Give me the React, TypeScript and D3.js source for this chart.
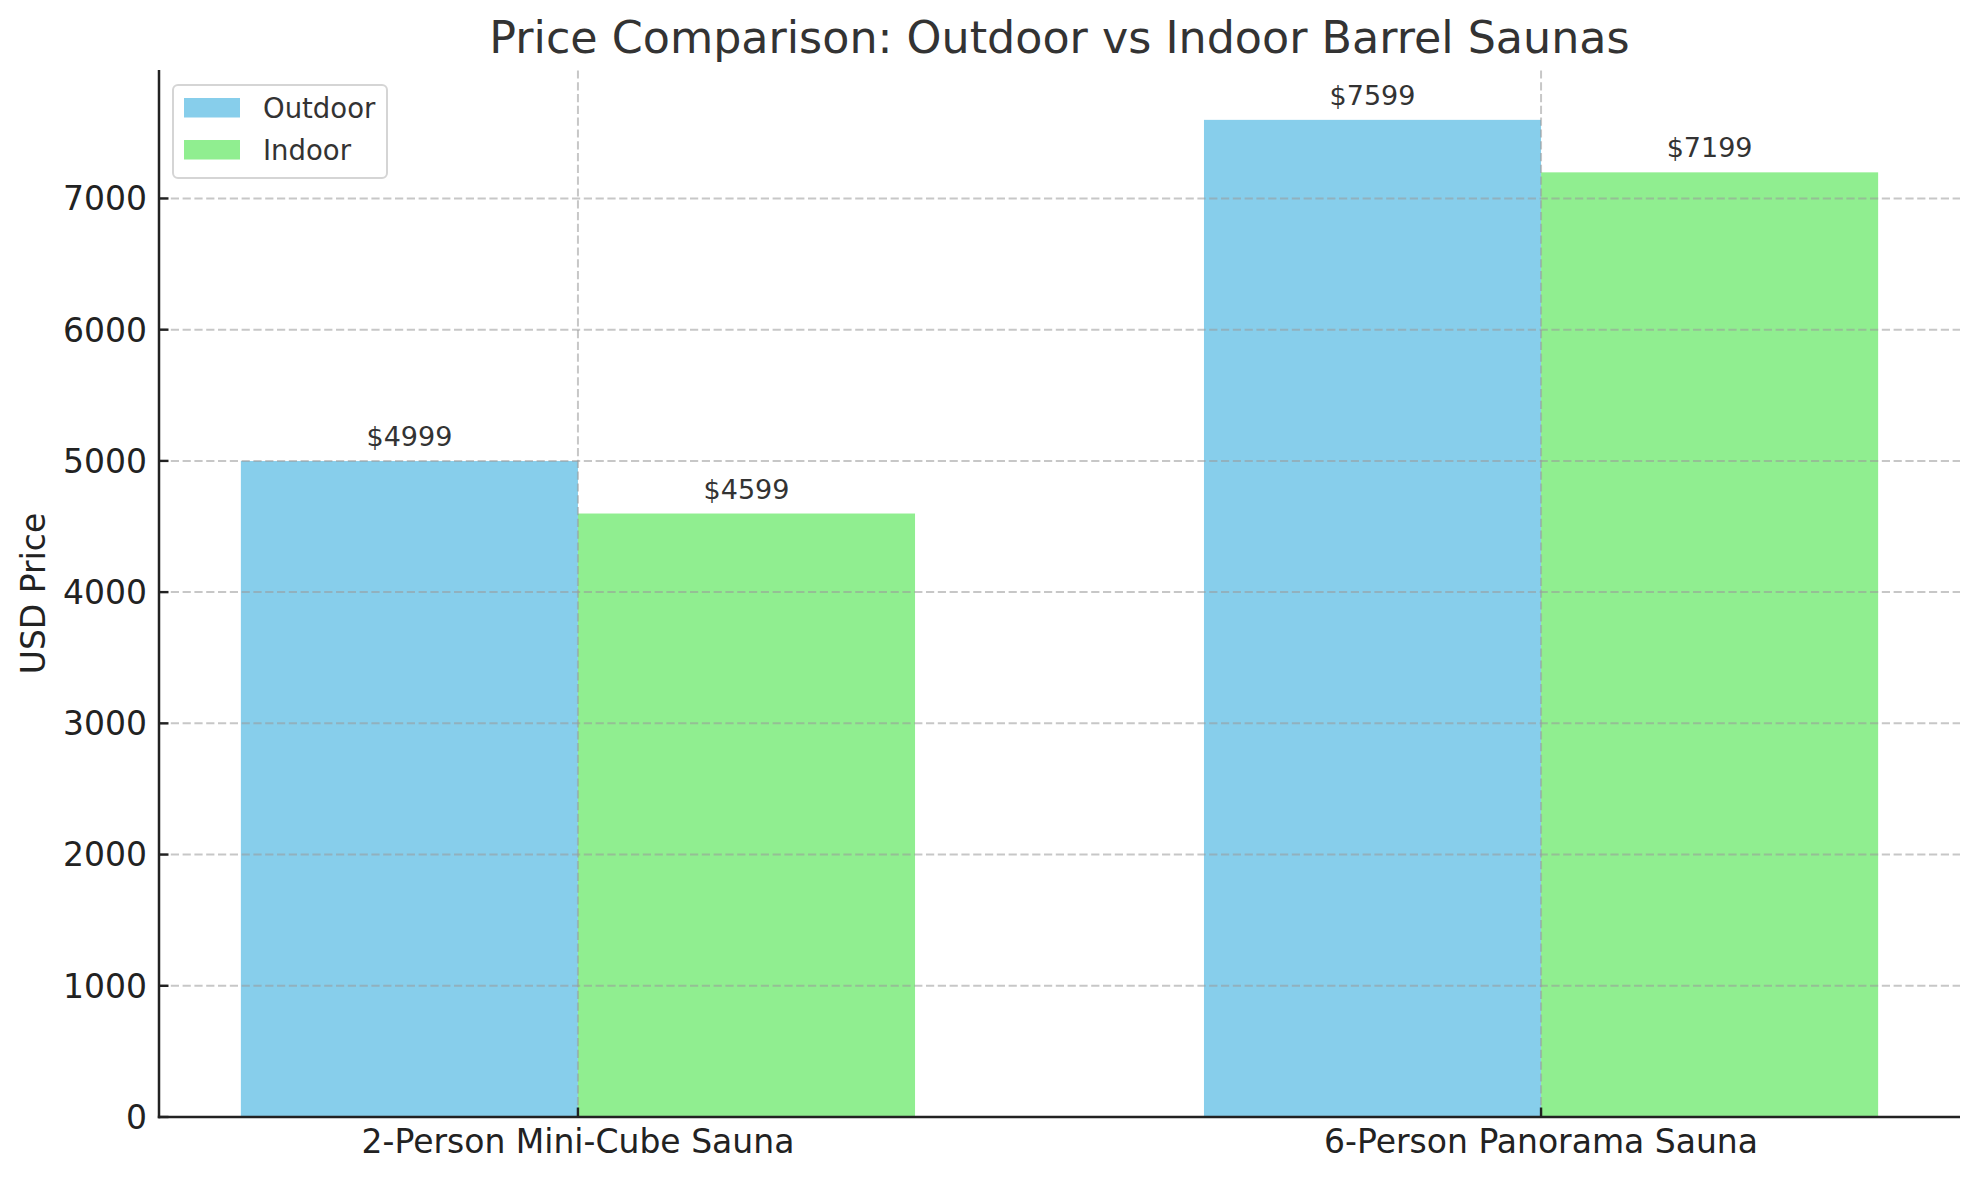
import { scaleLinear } from "d3";

const categories = ["2-Person Mini-Cube Sauna", "6-Person Panorama Sauna"];
const seriesNames = ["Outdoor", "Indoor"];
const outdoorPrices = [4999, 7599];
const indoorPrices = [4599, 7199];
const yTicks = [0, 1000, 2000, 3000, 4000, 5000, 6000, 7000];

const colors = ["#87CEEB", "#90EE90"];
const W = 1979;
const H = 1180;
const FONT = "DejaVu Sans, sans-serif";
const barWidth = 0.35;

export default function App() {
  const series = [outdoorPrices, indoorPrices];
  const maxVal = Math.max(...outdoorPrices, ...indoorPrices);

  // matplotlib-like 5% margins on x, bars span [-w, 1 + w]
  const x0 = -barWidth;
  const x1 = categories.length - 1 + barWidth;
  const pad = (x1 - x0) * 0.05;
  const x = scaleLinear().domain([x0 - pad, x1 + pad]).range([159, 1960]);
  const y = scaleLinear().domain([0, maxVal * 1.05]).range([1117, 70]);

  const [left, right] = x.range();
  const [bottom, top] = y.range();
  const gridProps = {
    stroke: "#999",
    strokeOpacity: 0.55,
    strokeWidth: 2,
    strokeDasharray: "8.2,3.6",
  };

  return (
    <svg
      width={W}
      height={H}
      viewBox={`0 0 ${W} ${H}`}
      style={{ position: "absolute", left: 0, top: 0, background: "#fff" }}
      fontFamily={FONT}
    >
      <rect width={W} height={H} fill="#fff" />

      {/* Bars */}
      {series.map((vals, s) =>
        vals.map((v, i) => {
          const bx = s === 0 ? x(i - barWidth) : x(i);
          const bw = x(i + barWidth) - x(i);
          return (
            <rect
              key={`${s}-${i}`}
              x={bx}
              y={y(v)}
              width={bw}
              height={y(0) - y(v)}
              fill={colors[s]}
            />
          );
        })
      )}

      {/* Grid (drawn over bars) */}
      {yTicks.map((t) => (
        <line key={`gy${t}`} x1={left} x2={right} y1={y(t)} y2={y(t)} {...gridProps} />
      ))}
      {categories.map((c, i) => (
        <line key={`gx${c}`} x1={x(i)} x2={x(i)} y1={bottom} y2={top} {...gridProps} />
      ))}

      {/* Value labels */}
      {series.map((vals, s) =>
        vals.map((v, i) => {
          const cx = s === 0 ? x(i - barWidth / 2) : x(i + barWidth / 2);
          return (
            <text
              key={`lbl-${s}-${i}`}
              x={cx}
              y={y(v) - 15}
              textAnchor="middle"
              fontSize={27}
              fill="#333"
            >
              ${v}
            </text>
          );
        })
      )}

      {/* Y axis */}
      {yTicks.map((t) => (
        <g key={`ty${t}`}>
          <line x1={left} x2={left + 9.5} y1={y(t)} y2={y(t)} stroke="#222" strokeWidth={2.4} />
          <text
            x={147}
            y={y(t)}
            dy="0.36em"
            textAnchor="end"
            fontSize={33}
            fill="#222"
          >
            {t}
          </text>
        </g>
      ))}

      {/* X axis */}
      {categories.map((c, i) => (
        <g key={`tx${c}`}>
          <line x1={x(i)} x2={x(i)} y1={bottom} y2={bottom - 9.5} stroke="#222" strokeWidth={2.4} />
          <text x={x(i)} y={1153} textAnchor="middle" fontSize={33} fill="#222">
            {c}
          </text>
        </g>
      ))}

      {/* Spines */}
      <line x1={left} x2={left} y1={top} y2={bottom + 1.2} stroke="#222" strokeWidth={2.5} />
      <line x1={left - 1.2} x2={right} y1={bottom} y2={bottom} stroke="#222" strokeWidth={2.5} />

      {/* Y label */}
      <text
        transform={`translate(45, ${(top + bottom) / 2}) rotate(-90)`}
        textAnchor="middle"
        fontSize={33}
        fill="#222"
      >
        USD Price
      </text>

      {/* Title */}
      <text x={(left + right) / 2} y={53} textAnchor="middle" fontSize={44.4} fill="#333">
        Price Comparison: Outdoor vs Indoor Barrel Saunas
      </text>

      {/* Legend */}
      <g>
        <rect
          x={173}
          y={85}
          width={214}
          height={93}
          rx={5}
          fill="#fff"
          fillOpacity={0.8}
          stroke="#d5d5d5"
          strokeWidth={2}
        />
        {seriesNames.map((name, s) => (
          <g key={name} transform={`translate(0, ${s * 42})`}>
            <rect x={184} y={98} width={56} height={19.5} fill={colors[s]} />
            <text x={263} y={108} dy="0.36em" fontSize={27.5} fill="#333">
              {name}
            </text>
          </g>
        ))}
      </g>
    </svg>
  );
}
